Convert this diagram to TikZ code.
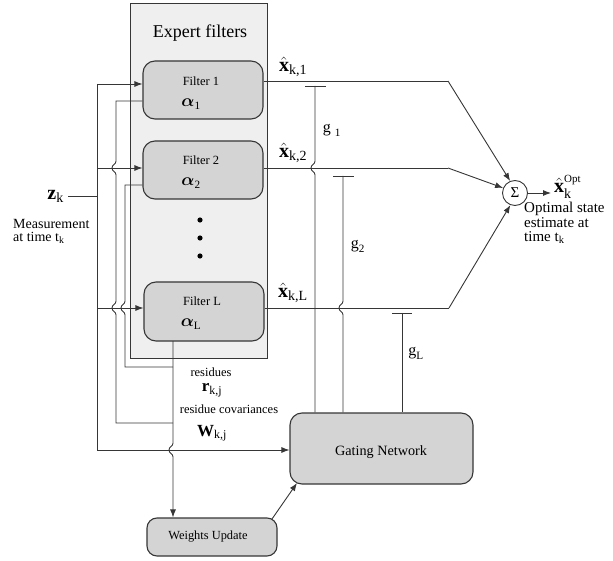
\documentclass[tikz,border=0pt]{standalone}
\usepackage{fontspec}
\usepackage{amsmath}
\setmainfont{Liberation Serif}
\usetikzlibrary{arrows.meta,calc}
\definecolor{ln}{HTML}{363636}
\definecolor{panelc}{HTML}{EFEFEF}
\definecolor{boxf}{HTML}{D4D4D4}
\newcommand\myfs[2]{\fontsize{#1}{#2}\selectfont}
\newcommand\hopv[2]{-- (#1,#2-7) .. controls (#1,#2-3) and (#1-4,#2-4) .. (#1-4,#2) .. controls (#1-4,#2+4) and (#1,#2+3) .. (#1,#2+7)}
\tikzset{
  ln/.style={draw=ln, line width=0.9pt},
  arr/.style={ln, -{Latex[length=8pt,width=6pt]}},
  fbox/.style={draw=ln, line width=1.1pt, fill=boxf, rounded corners=12pt, inner sep=0pt},
  lbl/.style={inner sep=0pt, text=black},
}
\begin{document}
\begin{tikzpicture}[x=1pt,y=-1pt]
\useasboundingbox (0,0) rectangle (613,561);
% panel
\node[draw=ln, line width=0.9pt, fill=panelc, minimum width=137pt, minimum height=355pt, anchor=north west, inner sep=0pt] (panel) at (130,3) {};
\node[lbl] (title) at (200,33) {\myfs{18}{20}Expert filters};
% filters
\node[fbox, minimum width=120pt, minimum height=58pt] (f1) at (203,90) {};
\node[fbox, minimum width=120pt, minimum height=58pt] (f2) at (203,170) {};
\node[fbox, minimum width=120pt, minimum height=59pt] (fL) at (204,311.5) {};
\node[lbl] (t1) at (201,81) {\myfs{12.5}{14}Filter 1};
\node[lbl] (a1) at (191,104) {\myfs{16}{18}$\boldsymbol{\alpha}_{\text{1}}$};
\node[lbl] (t2) at (201,160) {\myfs{12.5}{14}Filter 2};
\node[lbl] (a2) at (191,183) {\myfs{16}{18}$\boldsymbol{\alpha}_{\text{2}}$};
\node[lbl] (tL) at (202,301) {\myfs{12.5}{14}Filter L};
\node[lbl] (aL) at (191,324) {\myfs{16}{18}$\boldsymbol{\alpha}_{\text{L}}$};
\fill[black] (200,220) circle (2.6) (200,238) circle (2.6) (200,256) circle (2.6);
% input z
\node[lbl, anchor=east] (zk) at (64,196) {\myfs{20}{22}$\text{\textbf{z}}_{\text{k}}$};
\node[lbl, anchor=north west, align=left, font=\myfs{14}{13}] (meas) at (13,219) {Measurement\\at time $\text{t}_{\text{k}}$};
\coordinate (in1) at (97,84);
\coordinate (in2) at (97,168);
\coordinate (inL) at (97,308);
\coordinate (inG) at (97,450);
\coordinate (zj) at (97,196);
\draw[ln] ($(zk.east)+(4,0)$) -- (zj);
\draw[ln] (in1) -- (inG);
\draw[arr] (in1) -- (in1 -| f1.west);
\draw[arr] (in2) -- (in2 -| f2.west);
\draw[arr] (inL) -- (inL -| fL.west);
% gating network & weights update
\node[fbox, minimum width=183pt, minimum height=71pt] (gate) at (381.5,448.5) {};
\node[lbl] (gtxt) at (381,452) {\myfs{14.2}{16}Gating Network};
\node[fbox, rounded corners=10pt, minimum width=130pt, minimum height=38pt] (wu) at (212,537) {};
\node[lbl] (wtxt) at (208,537) {\myfs{12.4}{14}Weights Update};
\draw[arr] (inG) -- (inG -| gate.west);
% residues
\coordinate (r1) at (116,101);
\coordinate (r2) at (125,185);
\coordinate (lb) at (173,341);
\coordinate (w1) at (173,423);
\coordinate (w2) at (173,367);
\draw[ln] (r1 -| f1.west) -- (r1) \hopv{116}{168} \hopv{116}{308} -- (116,423) -- (w1);
\draw[ln] (r2 -| f2.west) -- (r2) \hopv{125}{308} -- (125,367) -- (w2);
\draw[arr] (lb) \hopv{173}{450} -- (lb |- wu.north);
\coordinate (wuo) at (272,519);
\coordinate (gti) at (297,483);
\draw[arr] (wuo) -- (gti);
\node[lbl] (res) at (211,372) {\myfs{12.5}{14}residues};
\node[lbl] (rkj) at (212,390) {\myfs{17}{18}$\text{\textbf{r}}_{\text{k,j}}$};
\node[lbl] (rcov) at (229,409) {\myfs{12.5}{14}residue covariances};
\node[lbl] (wkj) at (212,433) {\myfs{17}{18}$\text{\textbf{W}}_{\text{k,j}}$};
% outputs and summation
\node[draw=ln, line width=0.9pt, circle, minimum size=25pt, inner sep=0pt] (sum) at (515,193) {\myfs{15}{16}Σ};
\coordinate (o1) at (448,81);
\coordinate (o2) at (448,168);
\coordinate (oL) at (449,308);
\draw[ln] (f1.east |- o1) -- (o1);
\draw[ln] (f2.east |- o2) -- (o2);
\draw[ln] (fL.east |- oL) -- (oL);
\draw[arr] (o1) -- (sum.112);
\draw[arr] (o2) -- (sum.157);
\draw[arr] (oL) -- (sum.249);
\coordinate (oo) at (551,193);
\draw[arr] (sum.east) -- (oo);
\node[lbl, anchor=west] (xopt) at (554,187) {\myfs{20}{22}$\hat{\text{\textbf{x}}}_{\text{k}}^{\text{\myfs{11}{12}Opt}}$};
\node[lbl, anchor=north west, align=left, font=\myfs{15}{14.5}] (optl) at (524,202) {Optimal state\\estimate at\\time $\text{t}_{\text{k}}$};
\node[lbl] (x1) at (293,67) {\myfs{20}{22}$\hat{\text{\textbf{x}}}_{\text{k,1}}$};
\node[lbl] (x2) at (293,153) {\myfs{20}{22}$\hat{\text{\textbf{x}}}_{\text{k,2}}$};
\node[lbl] (xL) at (293,293) {\myfs{20}{22}$\hat{\text{\textbf{x}}}_{\text{k,L}}$};
% gate weights
\coordinate (g1t) at (315,86);
\coordinate (g2t) at (343,176);
\coordinate (gLt) at (402,313);
\draw[ln] ($(g1t)+(-10,0)$) -- ($(g1t)+(11,0)$);
\draw[ln] ($(g2t)+(-10,0)$) -- ($(g2t)+(11,0)$);
\draw[ln] ($(gLt)+(-10,0)$) -- ($(gLt)+(10,0)$);
\draw[ln] (g1t) \hopv{315}{168} -- (g1t |- gate.north);
\draw[ln] (g2t) \hopv{343}{308} -- (g2t |- gate.north);
\draw[ln] (gLt) -- (gLt |- gate.north);
\node[lbl] (g1l) at (332,130) {\myfs{16}{18}$\text{g}_{\ \text{1}}$};
\node[lbl] (g2l) at (358,246) {\myfs{16}{18}$\text{g}_{\text{2}}$};
\node[lbl] (gLl) at (416,353) {\myfs{16}{18}$\text{g}_{\text{L}}$};
\end{tikzpicture}
\end{document}
